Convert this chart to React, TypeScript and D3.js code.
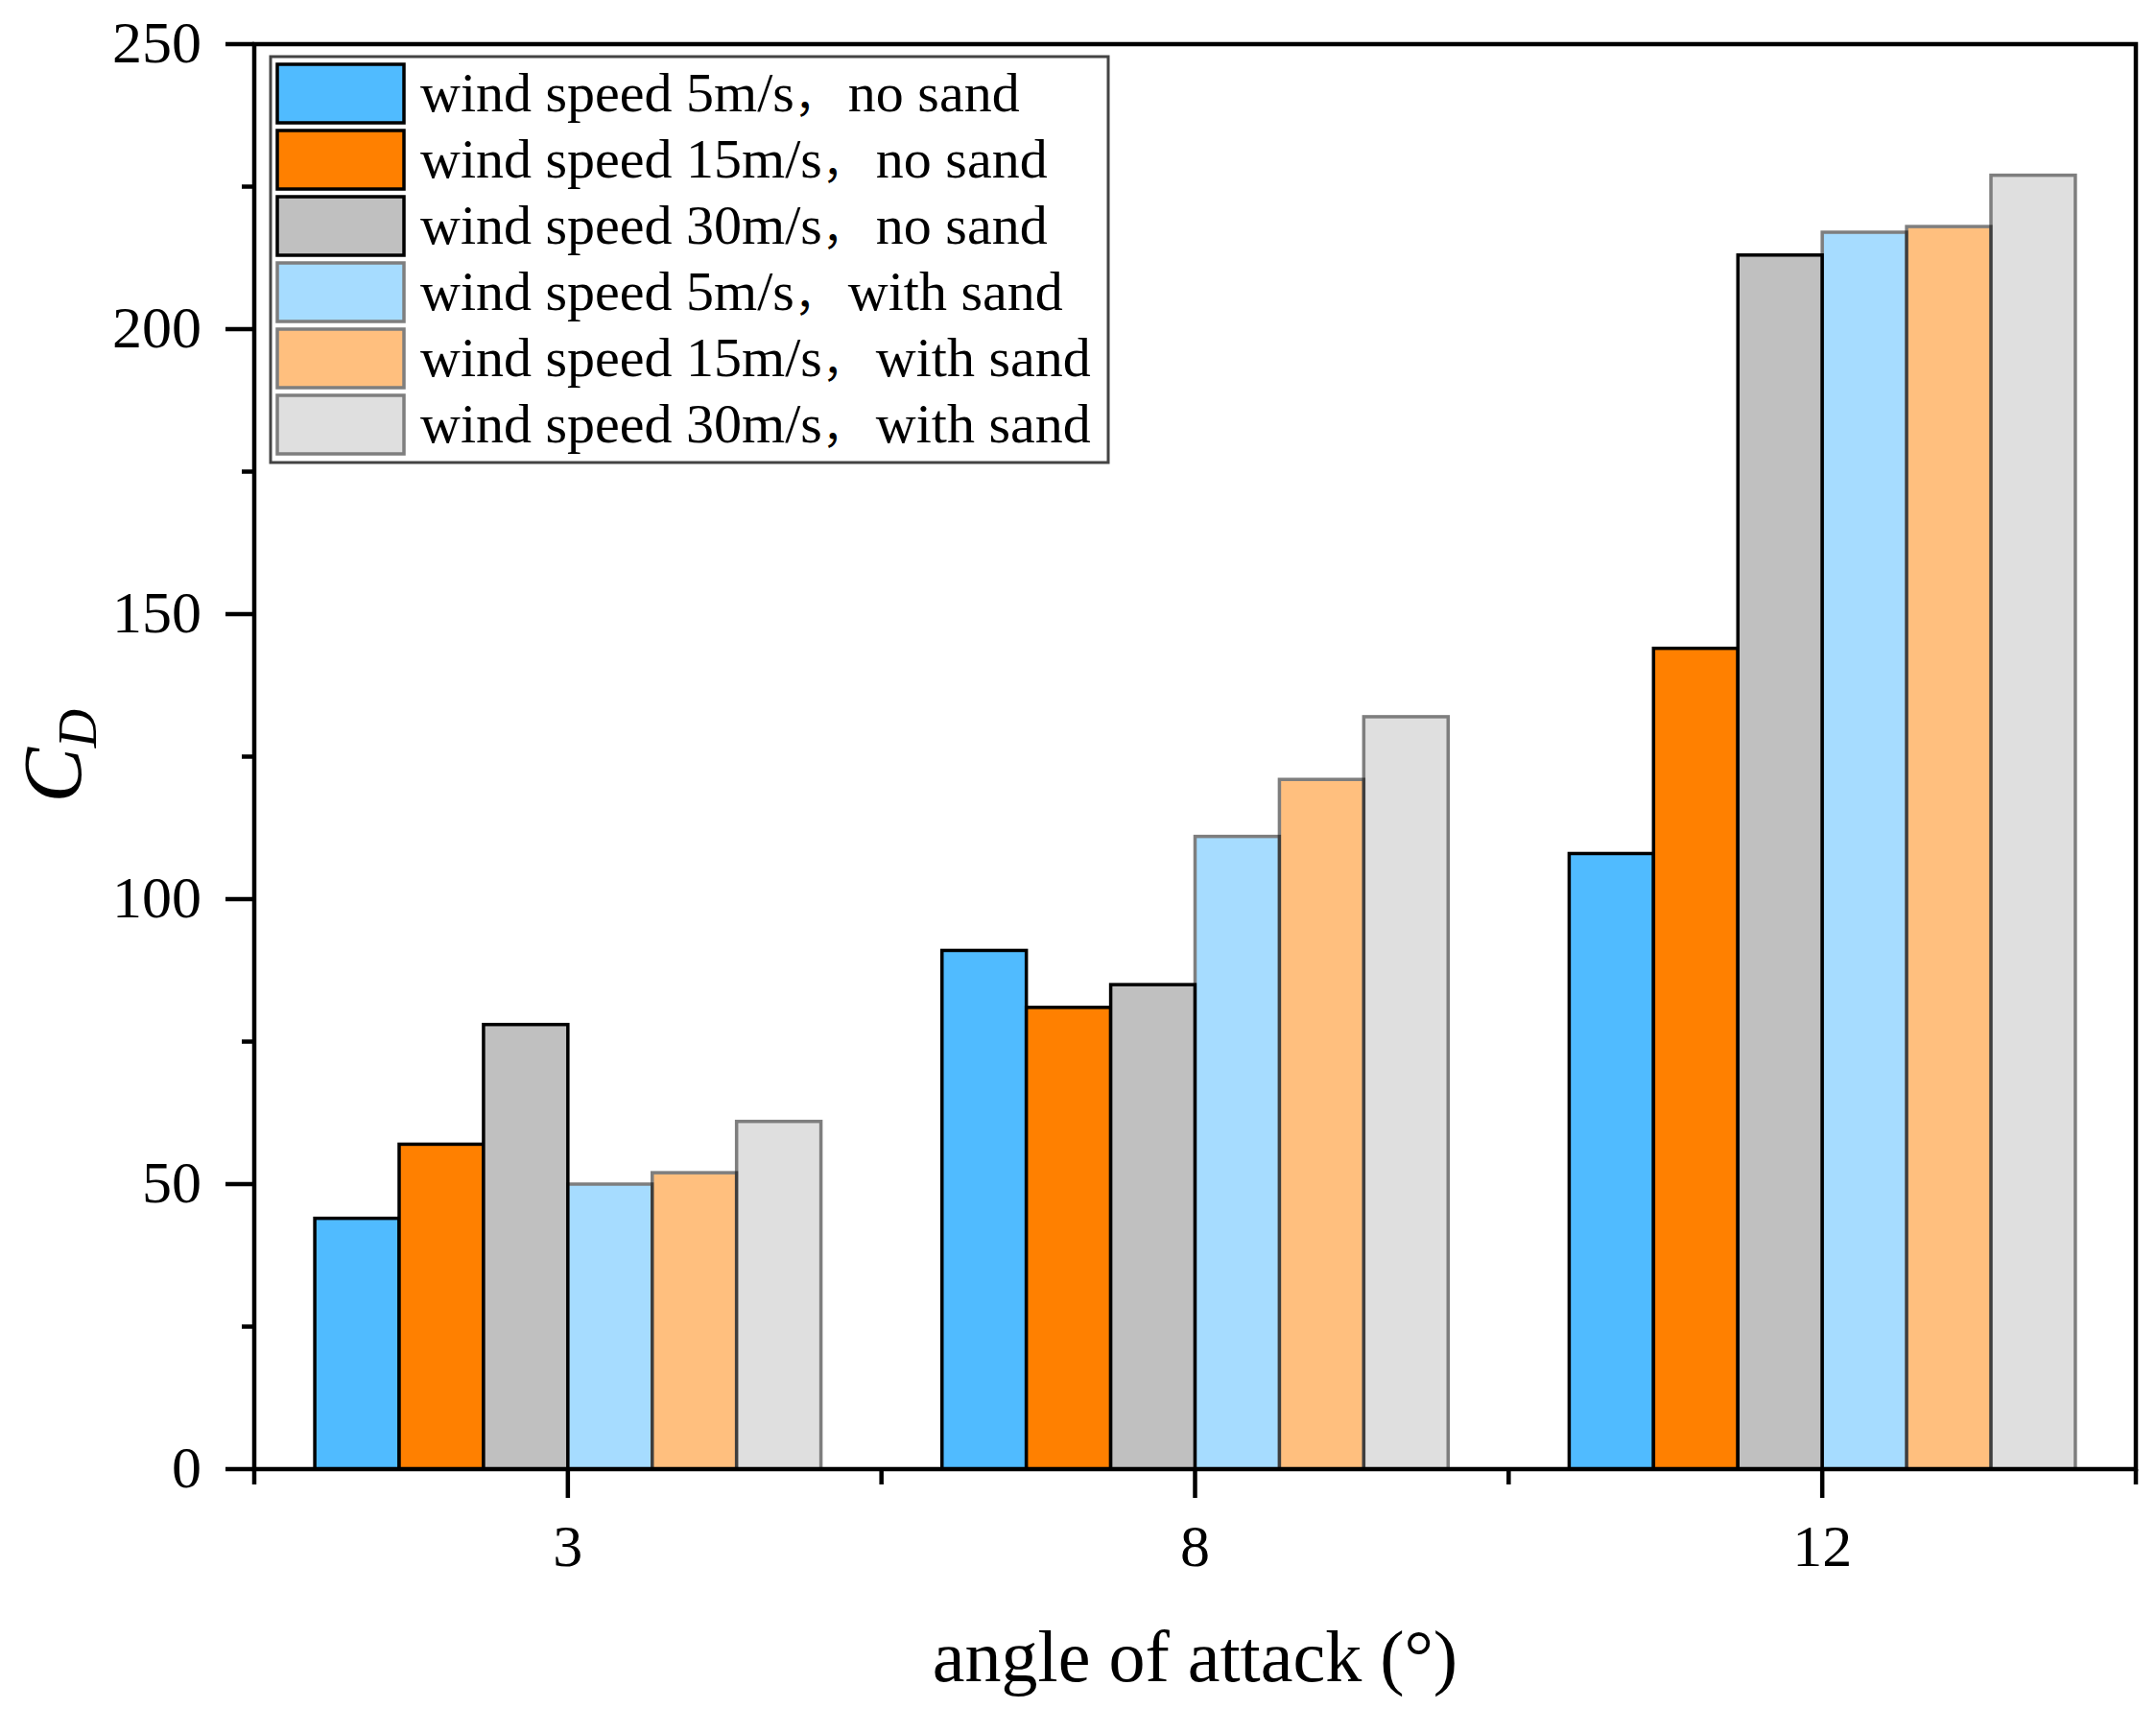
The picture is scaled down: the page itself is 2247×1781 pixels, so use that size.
import React from "react";
import * as d3 from "d3";

const categories = ["3", "8", "12"];
const seriesNames = [
  "wind speed 5m/s，no sand",
  "wind speed 15m/s，no sand",
  "wind speed 30m/s，no sand",
  "wind speed 5m/s，with sand",
  "wind speed 15m/s，with sand",
  "wind speed 30m/s，with sand",
];
const speed5NoSand = [44, 91, 108];
const speed15NoSand = [57, 81, 144];
const speed30NoSand = [78, 85, 213];
const speed5Sand = [50, 111, 217];
const speed15Sand = [52, 121, 218];
const speed30Sand = [61, 132, 227];
const seriesValues = [speed5NoSand, speed15NoSand, speed30NoSand, speed5Sand, speed15Sand, speed30Sand];
const seriesColors = ["#50BBFF", "#FF8000", "#C0C0C0", "#50BBFF", "#FF8000", "#C0C0C0"];
const seriesOpacity = [1, 1, 1, 0.5, 0.5, 0.5];
const yMajorTicks = [0, 50, 100, 150, 200, 250];
const yMinorTicks = [25, 75, 125, 175, 225];

const W = 2247;
const H = 1781;
const L = 265;
const R = 2226;
const T = 46;
const B = 1531;
const FONT = "'Liberation Serif', 'Times New Roman', serif";
const CJK = "'Noto Sans CJK SC', sans-serif";

export default function App() {
  const x0 = d3.scaleBand<string>().domain(categories).range([L, R]).padding(0);
  const bw = x0.bandwidth();
  const gw = bw * 0.807;
  const x1 = d3.scaleBand<number>().domain(d3.range(seriesNames.length)).range([0, gw]).padding(0);
  const y = d3.scaleLinear().domain([0, 250]).range([B, T]);
  const xMinor = [L, ...categories.map((c) => (x0(c) as number) + bw)];

  return (
    <svg
      width={W}
      height={H}
      style={{ position: "absolute", left: 0, top: 0, display: "block", background: "#fff" }}
      fontFamily={FONT}
    >
      <rect x={0} y={0} width={W} height={H} fill="#fff" />
      {/* bars */}
      {categories.map((c, ci) => (
        <g key={c} transform={`translate(${(x0(c) as number) + (bw - gw) / 2},0)`}>
          {seriesValues.map((vals, si) => (
            <rect
              key={si}
              x={x1(si) as number}
              y={y(vals[ci])}
              width={x1.bandwidth()}
              height={y(0) - y(vals[ci])}
              fill={seriesColors[si]}
              stroke="#000"
              strokeWidth={3.5}
              opacity={seriesOpacity[si]}
            />
          ))}
        </g>
      ))}
      {/* axes box */}
      <rect x={L} y={T} width={R - L} height={B - T} fill="none" stroke="#000" strokeWidth={4.5} />
      {/* y ticks */}
      {yMajorTicks.map((t) => (
        <g key={t}>
          <line x1={L - 30} x2={L} y1={y(t)} y2={y(t)} stroke="#000" strokeWidth={4.5} />
          <text x={210} y={y(t)} dy="0.3em" textAnchor="end" fontSize={62} fill="#000">
            {t}
          </text>
        </g>
      ))}
      {yMinorTicks.map((t) => (
        <line key={t} x1={L - 13} x2={L} y1={y(t)} y2={y(t)} stroke="#000" strokeWidth={4.5} />
      ))}
      {/* x ticks */}
      {categories.map((c) => {
        const cx = (x0(c) as number) + bw / 2;
        return (
          <g key={c}>
            <line x1={cx} x2={cx} y1={B} y2={B + 30} stroke="#000" strokeWidth={4.5} />
            <text x={cx} y={1632} textAnchor="middle" fontSize={62} fill="#000">
              {c}
            </text>
          </g>
        );
      })}
      {xMinor.map((mx, i) => (
        <line key={i} x1={mx} x2={mx} y1={B} y2={B + 16} stroke="#000" strokeWidth={4.5} />
      ))}
      {/* axis titles */}
      <text x={(L + R) / 2} y={1752} textAnchor="middle" fontSize={76} fill="#000">
        angle of attack (°)
      </text>
      <text
        transform={`translate(84,${(T + B) / 2 + 48}) rotate(-90)`}
        fontSize={86}
        fontStyle="italic"
        fill="#000"
      >
        C
        <tspan fontSize={56} dy={16}>
          D
        </tspan>
      </text>
      {/* legend */}
      <rect x={282} y={59} width={873} height={423} fill="#fff" stroke="#444" strokeWidth={3} />
      {seriesNames.map((name, i) => {
        const top = 67 + i * 69;
        const [a, b] = name.split("，");
        return (
          <g key={name}>
            <rect x={289} y={top} width={132} height={61} fill={seriesColors[i]} stroke="#000" strokeWidth={3.5} opacity={seriesOpacity[i]} />
            <text x={438} y={top + 49} fontSize={58} fill="#000">
              {a}
              <tspan fontFamily={CJK} fontSize={46}>，</tspan>
              <tspan dx={10}>{b}</tspan>
            </text>
          </g>
        );
      })}
    </svg>
  );
}
